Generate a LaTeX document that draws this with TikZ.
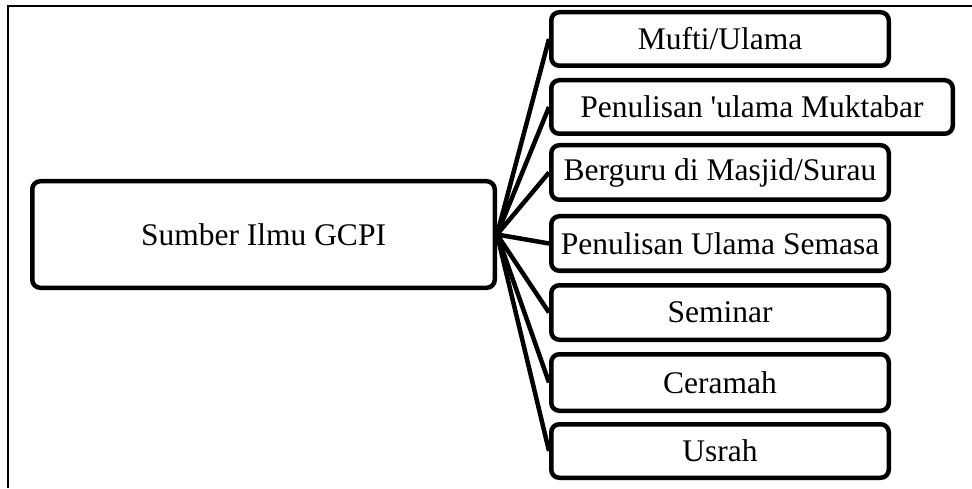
\documentclass[tikz,border=0pt]{standalone}
\usepackage{fontspec}
\setmainfont{Liberation Serif}
\usepackage{tikz}

\tikzset{
  srcbox/.style={draw, line width=4.5pt, rounded corners=8pt, align=center,
    font=\fontsize{31.5}{37}\selectfont, inner sep=0pt},
  itembox/.style={srcbox, anchor=west, minimum width=337.5pt, minimum height=53.5pt},
  link/.style={line width=4.5pt},
}

\begin{document}
\begin{tikzpicture}[x=1pt,y=1pt]
\useasboundingbox (0,0) rectangle (972,488);
% frame
\draw[line width=2pt] (8,0) -- (8,482) -- (972,482);
% source
\node[srcbox, minimum width=462.5pt, minimum height=106.5pt] (sumber) at (263.5,253.5) {Sumber Ilmu GCPI};
% items
\node[itembox] (mufti) at (549,449) {Mufti/Ulama};
\node[itembox, minimum width=401.5pt] (muktabar) at (549,381) {Penulisan \textquotesingle ulama Muktabar};
\node[itembox, minimum height=54.5pt] (masjid) at (549,315.5) {Berguru di Masjid/Surau};
\node[itembox, minimum height=54.5pt] (semasa) at (549,244.5) {Penulisan Ulama Semasa};
\node[itembox, minimum height=54.5pt] (seminar) at (549,175.5) {Seminar};
\node[itembox, minimum height=56.5pt] (ceramah) at (549,105.5) {Ceramah};
\node[itembox] (usrah) at (549,37) {Usrah};
% links
\foreach \n in {mufti,muktabar,masjid,semasa,seminar,ceramah,usrah}
  \draw[link] (sumber.east) -- (\n.west);
\end{tikzpicture}
\end{document}
